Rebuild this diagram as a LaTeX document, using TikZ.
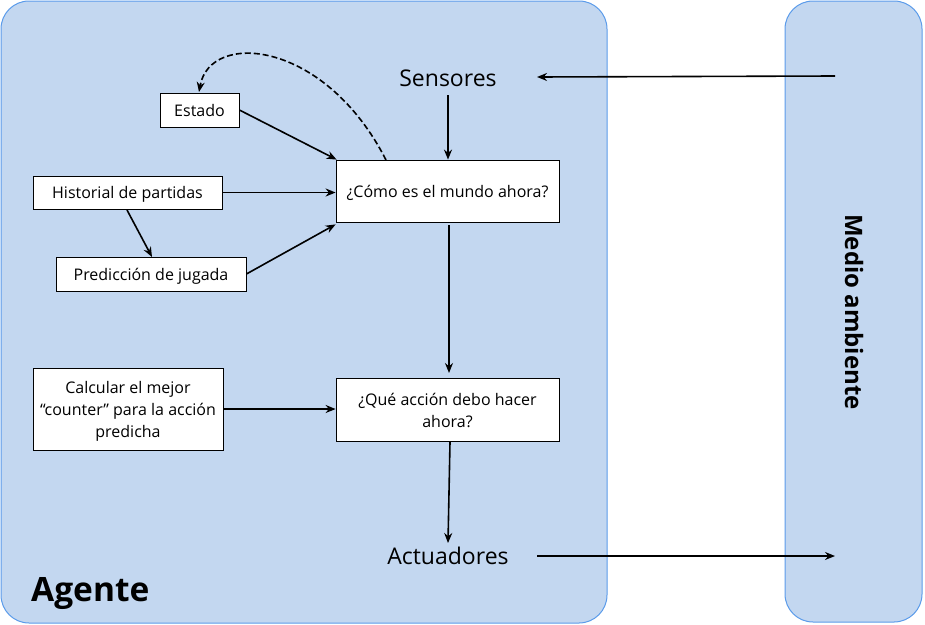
\documentclass[tikz,border=0pt]{standalone}
\usepackage{fontspec}
\setmainfont{Open Sans}
\usetikzlibrary{arrows.meta}
\definecolor{panelfill}{HTML}{C3D7F0}
\definecolor{paneldraw}{HTML}{5B9BEA}
\newcommand{\mlines}[1]{\raisebox{-2.5pt}[\height][\depth]{\begin{tabular}{@{}c@{}}#1\end{tabular}}}
\tikzset{
  panel/.style={draw=paneldraw, fill=panelfill, rounded corners=28pt, line width=1pt},
  box/.style={draw=black, fill=white, line width=0.8pt, inner sep=0pt, font=\fontsize{16}{22}\selectfont},
  onebox/.style={box, text height=14pt, text depth=2pt},
  lbl/.style={font=\fontsize{23}{26}\selectfont, inner sep=0pt},
  arr/.style={-{Stealth[length=10pt,width=8pt]}, line width=1.6pt},
}
\begin{document}
\begin{tikzpicture}[x=1pt,y=-1pt]
\useasboundingbox (0,0) rectangle (925,624);
\draw[panel] (1,1) rectangle (607,623);
\draw[panel] (785,1) rectangle (922,622);

\node[lbl] (sens) at (448,78) {Sensores};
\node[lbl] (act) at (448,556) {Actuadores};
\node[font=\fontsize{33.5}{36}\selectfont\bfseries, anchor=west, inner sep=0pt] (agente) at (31,594) {Agente};
\node[font=\fontsize{24}{26}\selectfont\bfseries, rotate=-90, inner sep=0pt] (medio) at (854,312) {Medio ambiente};

\node[onebox, minimum width=79pt, minimum height=34pt] (estado) at (199.5,110) {Estado};
\node[onebox, minimum width=223pt, minimum height=62pt] (como) at (447.5,191) {¿Cómo es el mundo ahora?};
\node[onebox, minimum width=189pt, minimum height=33pt] (hist) at (127.5,192.5) {Historial de partidas};
\node[onebox, minimum width=190pt, minimum height=34pt] (pred) at (151,274) {Predicción de jugada};
\node[box, minimum width=190pt, minimum height=82pt] (calc) at (128,409) {\mlines{Calcular el mejor\\“counter” para la acción\\predicha}};
\node[box, minimum width=223pt, minimum height=63pt] (que) at (447.5,409.5) {\mlines{¿Qué acción debo hacer\\ahora?}};

\coordinate (envin) at (835,76);
\coordinate (sensin) at (537,77);
\coordinate (actout) at (537,556);
\coordinate (envout) at (835,556);
\coordinate (predtop) at (152,257);
\coordinate (histbot) at (127,210);
\coordinate (sensbot) at (448,95);
\coordinate (comobot) at (449,225);
\coordinate (quetop) at (449,373);
\coordinate (quebot) at (450,442);
\coordinate (acttop) at (448,543);
\coordinate (dashstart) at (386,160);
\coordinate (estadotop) at (199,92);

\draw[arr] (envin) -- (sensin);
\draw[arr] (sensbot) -- (como.north -| sensbot);
\draw[arr] (estado.east) -- ([xshift=1pt]como.north west);
\draw[arr] (hist.east) -- (como.west |- hist.east);
\draw[arr] (histbot) -- (predtop);
\draw[arr] (pred.east) -- ([yshift=-2pt]como.south west);
\draw[arr] (comobot) -- (quetop);
\draw[arr] (calc.east) -- (que.west |- calc.east);
\draw[arr] (quebot) -- (acttop);
\draw[arr] (actout) -- (envout);
\draw[arr, dash pattern=on 6pt off 3pt] (dashstart) .. controls (325,40) and (210,30) .. (estadotop);
\end{tikzpicture}
\end{document}
